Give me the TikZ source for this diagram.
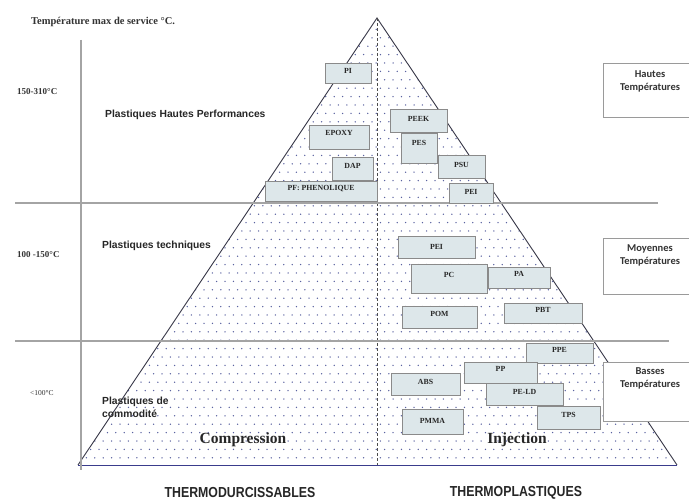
\documentclass[tikz,border=0pt]{standalone}
\usepackage{fontspec}
\setmainfont{Liberation Serif}
\newfontfamily\arialf{Liberation Sans}
\newfontfamily\arialc[FakeStretch=0.85]{Liberation Sans}
\newfontfamily\calibf{Carlito}
\definecolor{boxfill}{HTML}{DDE7EA}
\definecolor{boxline}{HTML}{8A8A8A}
\definecolor{dotc}{HTML}{5A62A0}
\definecolor{sidec}{HTML}{383848}
\definecolor{basec}{HTML}{3A3C8C}
\definecolor{hlinec}{HTML}{A4A4A4}
\definecolor{tboxline}{HTML}{9A9A9A}
\newcommand\plbox[7]{\node[pbox, minimum width={#4pt-#2pt}, minimum height={#5pt-#3pt}, label={[plab, yshift=#6pt]center:#7}] (#1) at ({(#2+#4)/2},{(#3+#5)/2}) {};}
\begin{document}
\begin{tikzpicture}[x=1pt,y=-1pt,
  pbox/.style={draw=boxline, fill=boxfill, line width=0.8pt, inner sep=0pt, outer sep=0pt},
  plab/.style={font=\bfseries\fontsize{7.8}{8}\selectfont, text=black!85, inner sep=0pt},
  tbox/.style={draw=tboxline, fill=white, line width=0.7pt, inner sep=0pt, outer sep=0pt},
  tlab/.style={font=\calibf\bfseries\fontsize{10.5}{13.5}\selectfont, align=center, text=black!80, inner sep=0pt},
  side/.style={draw=sidec, line width=0.9pt},
  basel/.style={draw=basec, line width=0.9pt},
  dashv/.style={draw=black!70, line width=0.7pt, dash pattern=on 3pt off 2pt},
  hline/.style={draw=hlinec, line width=2.8pt},
  tmp/.style={font=\bfseries\fontsize{9}{10}\selectfont, text=black!80, inner sep=0pt, anchor=west},
  plast/.style={font=\arialf\bfseries\fontsize{10.3}{13}\selectfont, text=black!85, inner sep=0pt, anchor=west, align=left},
  proc/.style={font=\bfseries\fontsize{15.5}{17}\selectfont, text=black!85, inner sep=0pt},
  fam/.style={font=\arialc\bfseries\fontsize{14.5}{16}\selectfont, text=black!85, inner sep=0pt}
]
\useasboundingbox (0,0) rectangle (689,500);
\fill[white] (0,0) rectangle (689,500);

\coordinate (apex) at (377,18);
\coordinate (bl) at (78,465);
\coordinate (br) at (677,465);
\coordinate (dbot) at (377,465);

% dotted fill
\begin{scope}
\clip (apex) -- (br) -- (bl) -- cycle;
\foreach \j in {0,...,53} {
  \pgfmathsetmacro\yy{21+8.4*\j}
  \pgfmathsetmacro\xo{78+4.2*mod(\j,2)}
  \foreach \i in {0,...,72} {
    \fill[dotc] ({\xo+8.4*\i},\yy) circle[radius=0.75pt];
  }
}
\end{scope}

\draw[side] (bl) -- (apex) -- (br);
\draw[basel] (bl) -- (br);
\draw[dashv] (apex) -- (dbot);

% level lines and axis
\coordinate (h1a) at (15,203); \coordinate (h1b) at (658,203);
\coordinate (h2a) at (15,341); \coordinate (h2b) at (669,341);
\coordinate (va) at (81,40); \coordinate (vb) at (81,470);
\draw[hline] (h1a) -- (h1b);
\draw[hline] (h2a) -- (h2b);
\draw[hline] (va) -- (vb);

% material boxes
\plbox{pi}{325}{63}{371}{83}{2}{PI}
\plbox{epoxy}{309}{125}{369}{149}{4}{EPOXY}
\plbox{dap}{332}{157}{373}{180}{3}{DAP}
\plbox{pf}{265}{181}{377}{201}{2}{PF: PHENOLIQUE}
\plbox{peek}{390}{109}{447}{132}{2}{PEEK}
\plbox{pes}{401}{133}{437}{163}{5}{PES}
\plbox{psu}{438}{155}{485}{178}{1.5}{PSU}
\plbox{peia}{449}{183}{493}{203}{1}{PEI}
\plbox{peib}{398}{236}{475}{258}{0}{PEI}
\plbox{pc}{411}{264}{487}{293}{3.5}{PC}
\plbox{pa}{488}{267}{550}{288}{3.5}{PA}
\plbox{pom}{402}{306}{477}{328}{3}{POM}
\plbox{pbt}{504}{303}{582}{323}{3}{PBT}
\plbox{ppe}{526}{343}{593}{363}{3}{PPE}
\plbox{pp}{464}{362}{537}{383}{3.5}{PP}
\plbox{abs}{391}{373}{460}{395}{2}{ABS}
\plbox{peld}{486}{383}{563}{405}{2}{PE-LD}
\plbox{pmma}{402}{409}{463}{434}{0.5}{PMMA}
\plbox{tps}{537}{406}{600}{429}{2.5}{TPS}

% temperature class boxes
\node[tbox, minimum width=94pt, minimum height=54pt, anchor=north west,
  label={[tlab, anchor=north, yshift=-7pt]north:Hautes\\Températures}] (haut) at (603,63) {};
\node[tbox, minimum width=94pt, minimum height=56pt, anchor=north west,
  label={[tlab, anchor=north, yshift=-6pt]north:Moyennes\\Températures}] (moy) at (603,238) {};
\node[tbox, minimum width=94pt, minimum height=59pt, anchor=north west,
  label={[tlab, anchor=north, yshift=-5pt]north:Basses\\Températures}] (bas) at (603,362) {};

% texts
\node[tmp, font=\bfseries\fontsize{10.5}{12}\selectfont] (title) at (31,22) {Température max de service °C.};
\node[tmp] (t1) at (17,92) {150-310°C};
\node[tmp] (t2) at (17,255) {100 -150°C};
\node[tmp, font=\fontsize{7.5}{9}\selectfont] (t3) at (30,393) {<100°C};
\node[plast] (p1) at (105,115) {Plastiques Hautes Performances};
\node[plast] (p2) at (102,246) {Plastiques techniques};
\node[plast] (p3) at (102,407) {Plastiques de\\commodité};
\node[proc] (comp) at (243,440) {Compression};
\node[proc] (inj) at (517,440) {Injection};
\node[fam] (thd) at (240,493) {THERMODURCISSABLES};
\node[fam] (thp) at (516,493) {THERMOPLASTIQUES};
\end{tikzpicture}
\end{document}
